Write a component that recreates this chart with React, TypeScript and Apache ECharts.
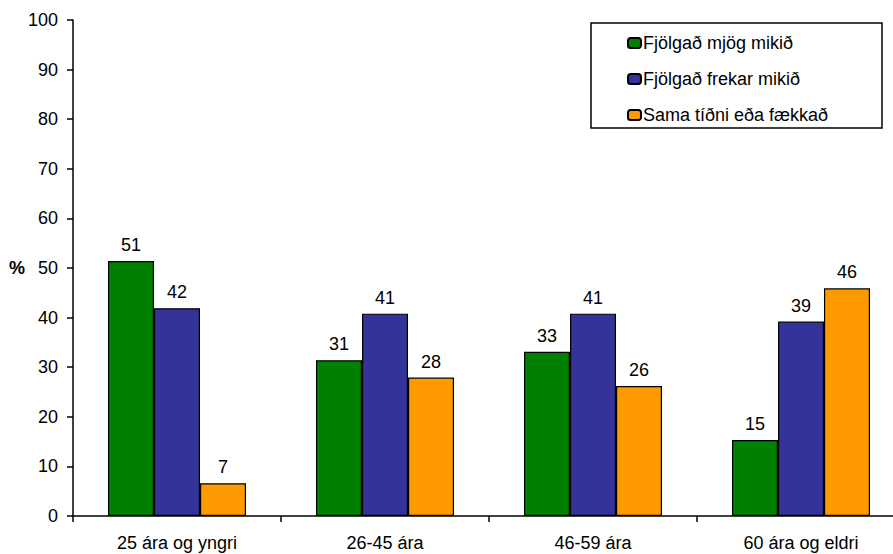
import React, { useEffect, useRef } from "react";
import * as echarts from "echarts";

const categories = ["25 ára og yngri", "26-45 ára", "46-59 ára", "60 ára og eldri"];
const seriesNames = ["Fjölgað mjög mikið", "Fjölgað frekar mikið", "Sama tíðni eða fækkað"];
const greenValues = [51.4, 31.4, 33.1, 15.3];
const blueValues = [41.9, 40.8, 40.8, 39.2];
const orangeValues = [6.6, 27.9, 26.2, 45.9];
const colors = ["#008000", "#333399", "#FF9900"];
const yTicks = { min: 0, max: 100, interval: 10 };
const axisName = "%";

const FONT = "'Liberation Sans', Arial, sans-serif";
const FS = 18;

export default function App() {
  const ref = useRef<HTMLDivElement>(null);
  useEffect(() => {
    if (!ref.current) return;
    const chart = echarts.init(ref.current, undefined, { renderer: "svg" });
    const allValues = [greenValues, blueValues, orangeValues];
    chart.setOption({
      animation: false,
      backgroundColor: "#ffffff",
      textStyle: { fontFamily: FONT },
      grid: { left: 73, top: 20, bottom: 38, right: 0, containLabel: false },
      legend: {
        orient: "vertical",
        left: 627,
        top: 34,
        padding: 0,
        itemGap: 18,
        itemWidth: 13,
        itemHeight: 10,
        selectedMode: false,
        textStyle: { fontSize: FS, color: "#000", fontFamily: FONT, padding: [0, 0, 0, -3] },
        data: seriesNames,
      },
      xAxis: {
        type: "category",
        data: categories,
        axisLine: { lineStyle: { color: "#000", width: 1.5 } },
        axisTick: { show: true, length: 6, lineStyle: { color: "#000", width: 1.5 } },
        axisLabel: { color: "#000", fontSize: FS, margin: 18, fontFamily: FONT },
        splitLine: { show: false },
      },
      yAxis: {
        type: "value",
        min: yTicks.min,
        max: yTicks.max,
        interval: yTicks.interval,
        axisLine: { show: true, lineStyle: { color: "#000", width: 1.5 } },
        axisTick: { show: true, length: 6, lineStyle: { color: "#000", width: 1.5 } },
        axisLabel: { color: "#000", fontSize: FS, margin: 15, fontFamily: FONT },
        splitLine: { show: false },
      },
      graphic: [
        {
          type: "rect",
          shape: { x: 591, y: 23, width: 291, height: 105 },
          style: { fill: "none", stroke: "#000", lineWidth: 1.5 },
          z: 10,
        },
        {
          type: "text",
          x: 17,
          y: 268,
          style: {
            text: axisName,
            font: `bold ${FS}px ${FONT}`,
            fill: "#000",
            align: "center",
            verticalAlign: "middle",
          },
        },
      ],
      series: seriesNames.map((name, i) => ({
        name,
        type: "bar",
        data: allValues[i],
        barWidth: 46,
        barGap: "0%",
        itemStyle: { color: colors[i], borderColor: "#000", borderWidth: 1.2 },
        label: {
          show: true,
          position: "top",
          distance: 7,
          color: "#000",
          fontSize: FS,
          fontFamily: FONT,
          formatter: (p: any) => String(Math.round(p.value)),
        },
      })),
    });
    return () => chart.dispose();
  }, []);
  return (
    <div style={{ position: "fixed", left: 0, top: 0, width: 893, height: 554, overflow: "hidden" }}>
      <div ref={ref} style={{ width: 905, height: 554 }} />
    </div>
  );
}
